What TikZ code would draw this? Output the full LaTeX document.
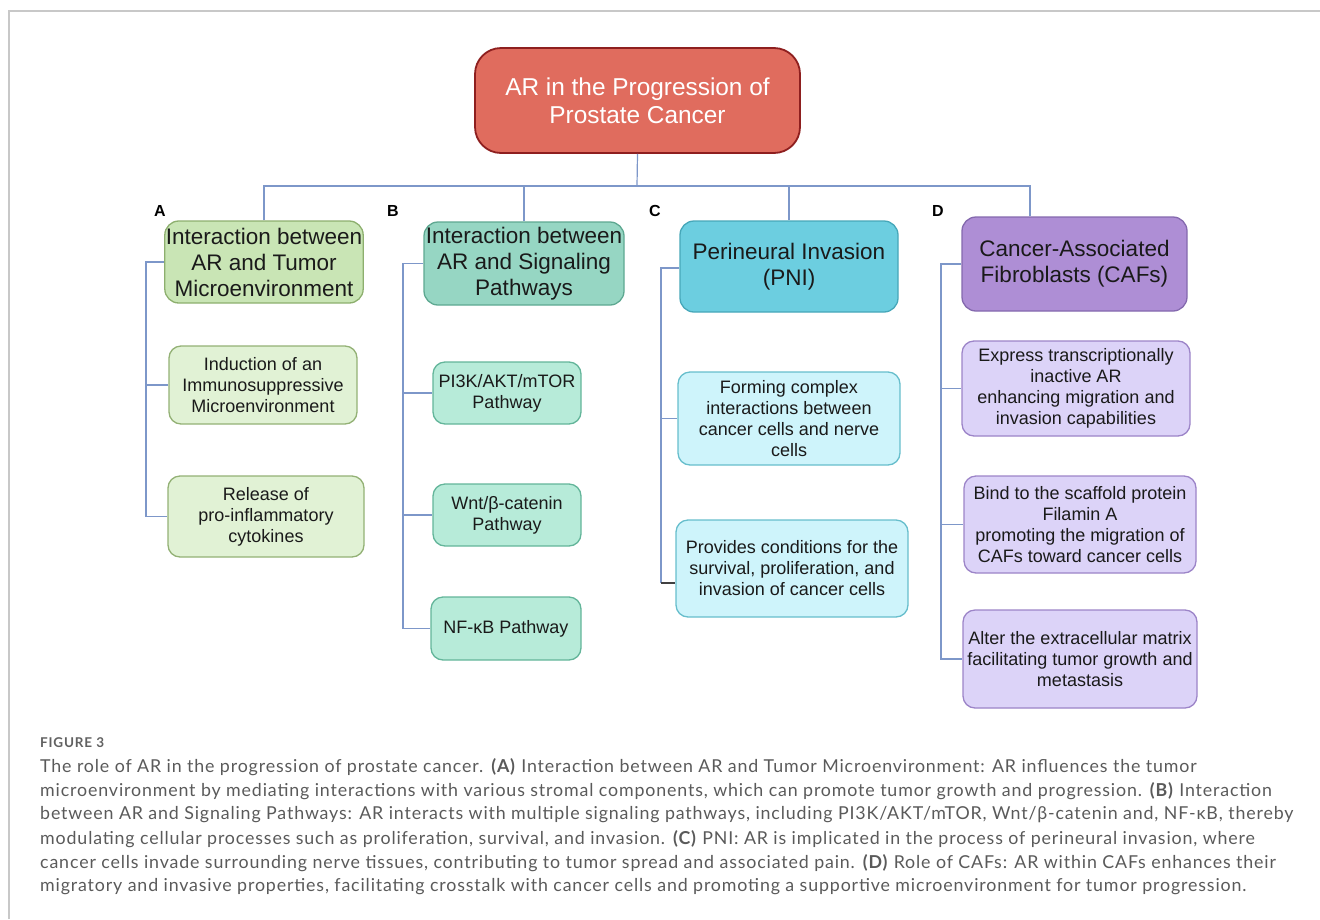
\documentclass[tikz,border=0pt]{standalone}
\usepackage{fontspec}
\setmainfont{Liberation Sans}
\newfontfamily\capfont[LetterSpace=4.8]{Lato}
\newfontfamily\figfont[LetterSpace=6]{Lato}
\definecolor{conn}{HTML}{7D97C9}
\definecolor{frame}{HTML}{C8C8C8}
\definecolor{rootfill}{HTML}{E06C5E}
\definecolor{rootdraw}{HTML}{8E1F1F}
\definecolor{aHfill}{HTML}{C9E5B5}
\definecolor{aHdraw}{HTML}{8DAF6E}
\definecolor{aCfill}{HTML}{E1F2D5}
\definecolor{aCdraw}{HTML}{93B175}
\definecolor{bHfill}{HTML}{96D6C3}
\definecolor{bHdraw}{HTML}{5EA891}
\definecolor{bCfill}{HTML}{B7EBD9}
\definecolor{bCdraw}{HTML}{63B59A}
\definecolor{cHfill}{HTML}{6CCEE0}
\definecolor{cHdraw}{HTML}{46A7B9}
\definecolor{cCfill}{HTML}{CEF4FB}
\definecolor{cCdraw}{HTML}{67BECC}
\definecolor{dHfill}{HTML}{AE8ED5}
\definecolor{dHdraw}{HTML}{8469AE}
\definecolor{dCfill}{HTML}{DCD3F8}
\definecolor{dCdraw}{HTML}{9C84C8}
\definecolor{captext}{HTML}{5A5A5A}
\definecolor{boxtext}{HTML}{1A1A1A}
\begin{document}
\begin{tikzpicture}[x=1pt,y=-1pt,
  box/.style={draw, rounded corners=12pt, align=center, inner sep=1pt, line width=1.3pt, text=boxtext},
  headbox/.style={box, rounded corners=14pt, font=\fontsize{22.5}{26}\selectfont},
  childbox/.style={box, font=\fontsize{18}{21}\selectfont},
  panel/.style={font=\fontsize{16}{18}\selectfont\bfseries, text=black},
  link/.style={draw=conn, line width=1.2pt},
  capline/.style={anchor=west, inner sep=0pt, text=captext, font=\capfont\fontsize{17.8}{20}\selectfont}]
\useasboundingbox (0,0) rectangle (1320,919);
\draw[frame, line width=1.5pt] (9,919) -- (9,11) -- (1320,11);

% root
\node[box, rounded corners=26pt, fill=rootfill, draw=rootdraw, line width=1.8pt, text=white,
  minimum width=325pt, minimum height=105pt, font=\fontsize{24.4}{28}\selectfont]
  (root) at (637.5,100.5) {AR in the Progression of\\Prostate Cancer};

% panel labels
\node[panel] (lA) at (160,211) {A};
\node[panel] (lB) at (393,211) {B};
\node[panel] (lC) at (655,211) {C};
\node[panel] (lD) at (938,211) {D};

% column A
\node[headbox, fill=aHfill, draw=aHdraw, minimum width=196pt, minimum height=82pt]
  (A) at (264,262) {Interaction between\\AR and Tumor\\Microenvironment};
\node[childbox, fill=aCfill, draw=aCdraw, minimum width=188pt, minimum height=78pt]
  (A1) at (263,385) {Induction of an\\Immunosuppressive\\Microenvironment};
\node[childbox, fill=aCfill, draw=aCdraw, minimum width=196pt, minimum height=81pt]
  (A2) at (266,516.5) {Release of\\pro-inflammatory\\cytokines};

% column B
\node[headbox, fill=bHfill, draw=bHdraw, minimum width=200pt, minimum height=83pt]
  (B) at (524,263.5) {Interaction between\\AR and Signaling\\Pathways};
\node[childbox, fill=bCfill, draw=bCdraw, minimum width=148pt, minimum height=62pt]
  (B1) at (507,393) {PI3K/AKT/mTOR\\Pathway};
\node[childbox, fill=bCfill, draw=bCdraw, minimum width=148pt, minimum height=62pt]
  (B2) at (507,515) {Wnt/β-catenin\\Pathway};
\node[childbox, fill=bCfill, draw=bCdraw, minimum width=150pt, minimum height=63pt]
  (B3) at (506,628.5) {NF-κB Pathway};

% column C
\node[headbox, fill=cHfill, draw=cHdraw, minimum width=218pt, minimum height=91pt]
  (C) at (789,266.5) {Perineural Invasion\\(PNI)};
\node[childbox, fill=cCfill, draw=cCdraw, minimum width=222pt, minimum height=93pt]
  (C1) at (789,418.5) {Forming complex\\interactions between\\cancer cells and nerve\\cells};
\node[childbox, fill=cCfill, draw=cCdraw, minimum width=232pt, minimum height=97pt]
  (C2) at (792,568.5) {Provides conditions for the\\survival, proliferation, and\\invasion of cancer cells};

% column D
\node[headbox, fill=dHfill, draw=dHdraw, minimum width=225pt, minimum height=94pt]
  (D) at (1074.5,264) {Cancer-Associated\\Fibroblasts (CAFs)};
\node[childbox, fill=dCfill, draw=dCdraw, minimum width=228pt, minimum height=95pt]
  (D1) at (1076,388.5) {Express transcriptionally\\inactive AR\\enhancing migration and\\invasion capabilities};
\node[childbox, fill=dCfill, draw=dCdraw, minimum width=232pt, minimum height=97pt]
  (D2) at (1080,524.5) {Bind to the scaffold protein\\Filamin A\\promoting the migration of\\CAFs toward cancer cells};
\node[childbox, fill=dCfill, draw=dCdraw, minimum width=234pt, minimum height=98pt]
  (D3) at (1080,659) {Alter the extracellular matrix\\facilitating tumor growth and\\metastasis};

% top tree
\coordinate (bus) at (637,186);
\coordinate (dtop) at ([xshift=-44.5pt]D.north);
\draw[link] (root.south) -- (bus);
\draw[link] (A.north) |- (bus);
\draw[link] (B.north) |- (bus);
\draw[link] (C.north) |- (bus);
\draw[link] (dtop) |- (bus);

% column connectors
\coordinate (ax) at (146,0);
\draw[link] (A.west) -- (A.west -| ax) -- (A2.west -| ax) -- (A2.west);
\draw[link] (A1.west -| ax) -- (A1.west);

\coordinate (bx) at (403,0);
\draw[link] (B.west) -- (B.west -| bx) -- (B3.west -| bx) -- (B3.west);
\draw[link] (B1.west -| bx) -- (B1.west);
\draw[link] (B2.west -| bx) -- (B2.west);

\coordinate (cx) at (661,0);
\coordinate (c2in) at ([yshift=-14.5pt]C2.west);
\draw[link] ([yshift=-1.5pt]C.west) -- ([yshift=-1.5pt]C.west -| cx) -- (c2in -| cx);
\draw[line width=1.2pt, draw=black!75] (c2in -| cx) -- (c2in);
\draw[link] (C1.west -| cx) -- (C1.west);

\coordinate (dx) at (941,0);
\draw[link] (D.west) -- (D.west -| dx) -- (D3.west -| dx) -- (D3.west);
\draw[link] (D1.west -| dx) -- (D1.west);
\draw[link] (D2.west -| dx) -- (D2.west);

% caption
\node[anchor=west, inner sep=0pt, text=black!62, font=\figfont\bfseries\fontsize{13.5}{15}\selectfont] (fig) at (40,743) {FIGURE 3};
\node[capline] (cap1) at (40,767) {The role of AR in the progression of prostate cancer. \textbf{(A)} Interaction between AR and Tumor Microenvironment: AR influences the tumor};
\node[capline] (cap2) at (40,791) {microenvironment by mediating interactions with various stromal components, which can promote tumor growth and progression. \textbf{(B)} Interaction};
\node[capline] (cap3) at (40,815) {between AR and Signaling Pathways: AR interacts with multiple signaling pathways, including PI3K/AKT/mTOR, Wnt/β-catenin and, NF-κB, thereby};
\node[capline] (cap4) at (40,839) {modulating cellular processes such as proliferation, survival, and invasion. \textbf{(C)} PNI: AR is implicated in the process of perineural invasion, where};
\node[capline] (cap5) at (40,863) {cancer cells invade surrounding nerve tissues, contributing to tumor spread and associated pain. \textbf{(D)} Role of CAFs: AR within CAFs enhances their};
\node[capline] (cap6) at (40,887) {migratory and invasive properties, facilitating crosstalk with cancer cells and promoting a supportive microenvironment for tumor progression.};
\end{tikzpicture}
\end{document}
